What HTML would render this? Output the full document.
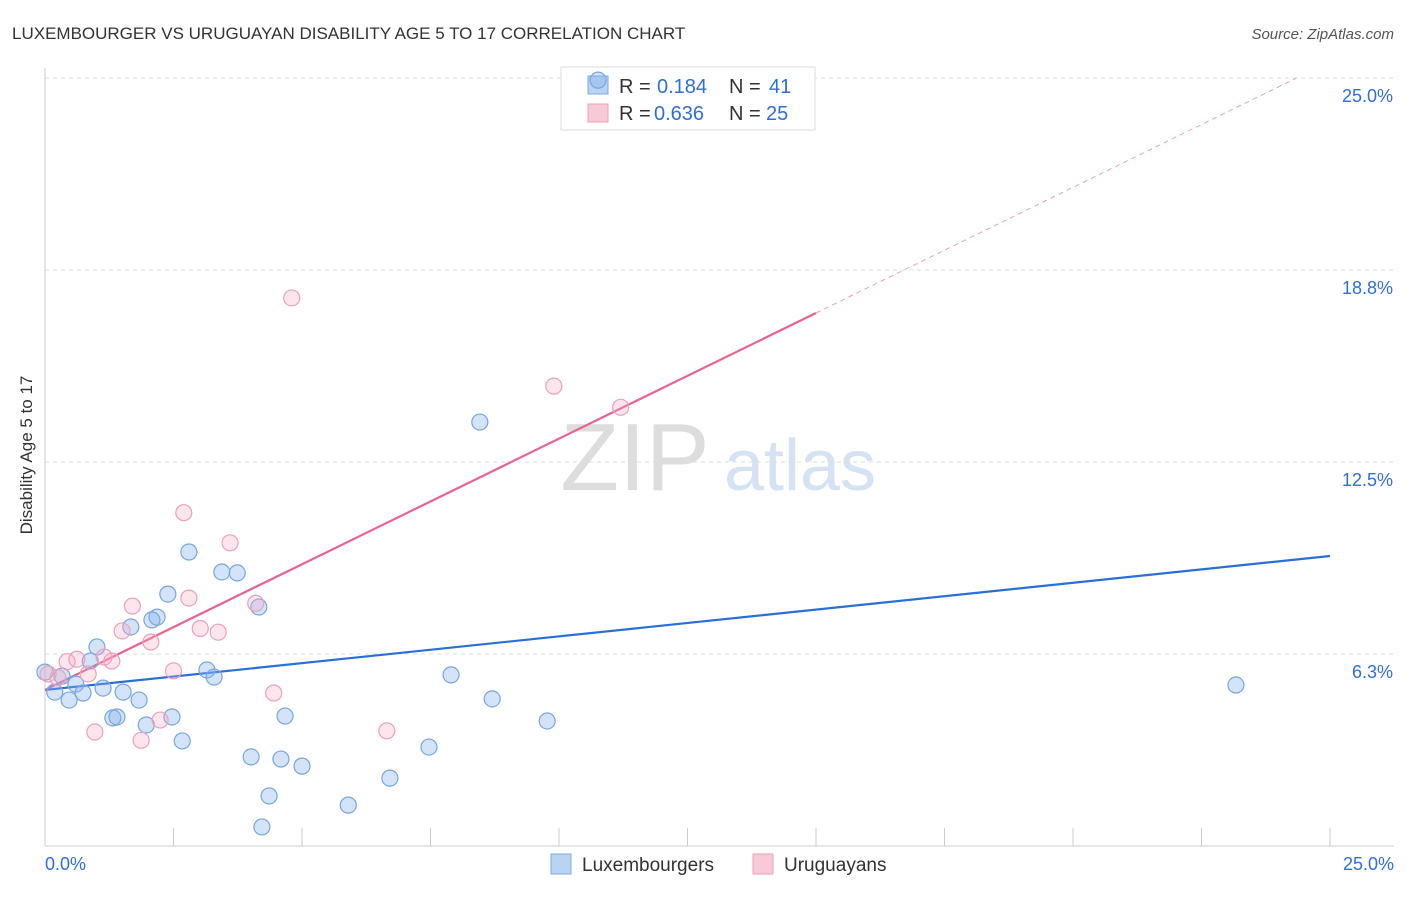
<!DOCTYPE html>
<html><head><meta charset="utf-8"><style>
body{margin:0;background:#fff;font-family:"Liberation Sans",sans-serif}
svg text{font-family:"Liberation Sans",sans-serif}
</style></head><body>
<svg id="c" width="1406" height="892">
<text x="12" y="39" font-size="17" fill="#333">LUXEMBOURGER VS URUGUAYAN DISABILITY AGE 5 TO 17 CORRELATION CHART</text>
<text x="1394" y="39" font-size="15" fill="#555" text-anchor="end" font-style="italic">Source: ZipAtlas.com</text>
<text x="32" y="455" font-size="17" fill="#333" text-anchor="middle" transform="rotate(-90 32 455)">Disability Age 5 to 17</text>
<g><text x="635" y="490" font-size="96" fill="#ddd" text-anchor="middle" font-family="Liberation Serif">ZIP</text><text x="800" y="490" font-size="72" fill="#d4e2f4" text-anchor="middle">atlas</text></g>
<g id="grid"></g><g id="axes"></g>
<g>
<rect x="561" y="67" width="254" height="63" fill="#fff" stroke="#ddd"/>
<rect x="588" y="76" width="20" height="18" fill="#b9d3f3" stroke="#7fa9e0"/>
<rect x="588" y="104" width="20" height="18" fill="#f9c9d8" stroke="#eba3bb"/>
<text x="619" y="93" font-size="20" fill="#333">R =</text><text x="657" y="93" font-size="20" fill="#2f6fd6">0.184</text>
<text x="729" y="93" font-size="20" fill="#333">N =</text><text x="769" y="93" font-size="20" fill="#2f6fd6">41</text>
<text x="619" y="120" font-size="20" fill="#333">R =</text><text x="654" y="120" font-size="20" fill="#2f6fd6">0.636</text>
<text x="729" y="120" font-size="20" fill="#333">N =</text><text x="766" y="120" font-size="20" fill="#2f6fd6">25</text>
</g>
<g id="lines"></g><g id="pts"></g>
<g>
<rect x="551" y="854" width="20" height="20" fill="#b9d3f3" stroke="#7fa9e0"/>
<text x="582" y="871" font-size="19" fill="#333">Luxembourgers</text>
<rect x="753" y="854" width="20" height="20" fill="#f9c9d8" stroke="#eba3bb"/>
<text x="784" y="871" font-size="19" fill="#333">Uruguayans</text>
</g>
</svg>
<script>
const yTicks=[6.25,12.5,18.75,25];
const yTickLabels=["6.3%","12.5%","18.8%","25.0%"];
const xTickCount=10;
const luxX=[10.76,8.46,2.80,3.44,3.74,2.39,2.18,2.08,4.16,1.67,1.01,0.88,0.33,0.60,0.19,0.47,0.74,1.13,1.52,1.83,1.32,1.40,1.97,2.47,2.67,3.15,3.29,4.67,4.01,4.59,5.00,4.36,4.22,5.90,6.71,7.47,7.90,8.70,9.77,23.17,0.0];
const luxY=[24.93,13.80,9.57,8.92,8.89,8.20,7.45,7.36,7.78,7.13,6.48,6.02,5.53,5.27,5.01,4.75,4.98,5.14,5.01,4.75,4.17,4.20,3.94,4.20,3.42,5.73,5.50,4.23,2.90,2.83,2.60,1.63,0.62,1.33,2.21,3.22,5.57,4.79,4.07,5.24,5.66];
const uruX=[4.8,9.9,11.2,2.7,3.6,1.7,2.8,4.1,1.5,2.06,3.02,3.37,1.15,1.3,0.43,0.62,0.84,0.25,0.06,2.5,4.45,0.97,1.87,2.24,6.65];
const uruY=[17.84,14.97,14.28,10.85,9.87,7.81,8.07,7.9,7.0,6.64,7.08,6.96,6.15,6.02,6.0,6.08,5.6,5.48,5.6,5.7,4.98,3.71,3.44,4.1,3.75];
const luxLine=[5.08,9.44];
const uruLine=[5.08,0.818];
const ns="http://www.w3.org/2000/svg";
const X=v=>45+v/25*1285, Y=v=>846-v*30.72;
function mk(t,a,p){const e=document.createElementNS(ns,t);for(const k in a)e.setAttribute(k,a[k]);p.appendChild(e);return e;}
const g=document.getElementById('grid'),ax=document.getElementById('axes'),ln=document.getElementById('lines'),pt=document.getElementById('pts');
yTicks.forEach((v,i)=>{
 const l=mk('line',{x1:45,x2:1394,y1:Y(v),y2:Y(v),stroke:'#ddd','stroke-dasharray':'4 4'},g);
 
 
 const t=mk('text',{x:1393,y:Y(v)+24,'font-size':18,fill:'#2f6fd6','text-anchor':'end'},ax);t.textContent=yTickLabels[i];
 
 
});
let a=mk('line',{x1:45,x2:45,y1:68,y2:846,stroke:'#ccc'},ax);


a=mk('line',{x1:45,x2:1394,y1:846,y2:846,stroke:'#ccc'},ax);


for(let i=0;i<=xTickCount;i++){const x=X(i*25/xTickCount);const t=mk('line',{x1:x,x2:x,y1:828,y2:846,stroke:'#ccc'},ax);
 
 }
let t=mk('text',{x:45,y:870,'font-size':18,fill:'#2f6fd6'},ax);t.textContent='0.0%';


t=mk('text',{x:1394,y:870,'font-size':18,fill:'#2f6fd6','text-anchor':'end'},ax);t.textContent='25.0%';


function dot(x,y,f,s,n){const c=mk('circle',{cx:X(x),cy:Y(y),r:8,fill:f,stroke:s,'stroke-width':1.2},pt);
 
 }
luxX.forEach((x,i)=>dot(x,luxY[i],'rgba(130,175,235,0.35)','#79a5e0','luxembourger-point'));
uruX.forEach((x,i)=>dot(x,uruY[i],'rgba(245,170,195,0.3)','#eca0ba','uruguayan-point'));
let l=mk('line',{x1:X(0),y1:Y(luxLine[0]),x2:X(25),y2:Y(luxLine[1]),stroke:'#2a6fd8','stroke-width':2.2},ln);


const xEnd=15, xMax=(25-uruLine[0])/uruLine[1];
l=mk('line',{x1:X(0),y1:Y(uruLine[0]),x2:X(xEnd),y2:Y(uruLine[0]+uruLine[1]*xEnd),stroke:'#e8638e','stroke-width':2.2},ln);


l=mk('line',{x1:X(xEnd),y1:Y(uruLine[0]+uruLine[1]*xEnd),x2:X(xMax),y2:Y(25),stroke:'#eda0b8','stroke-width':1,'stroke-dasharray':'5 4'},ln);


</script>
</body></html>
